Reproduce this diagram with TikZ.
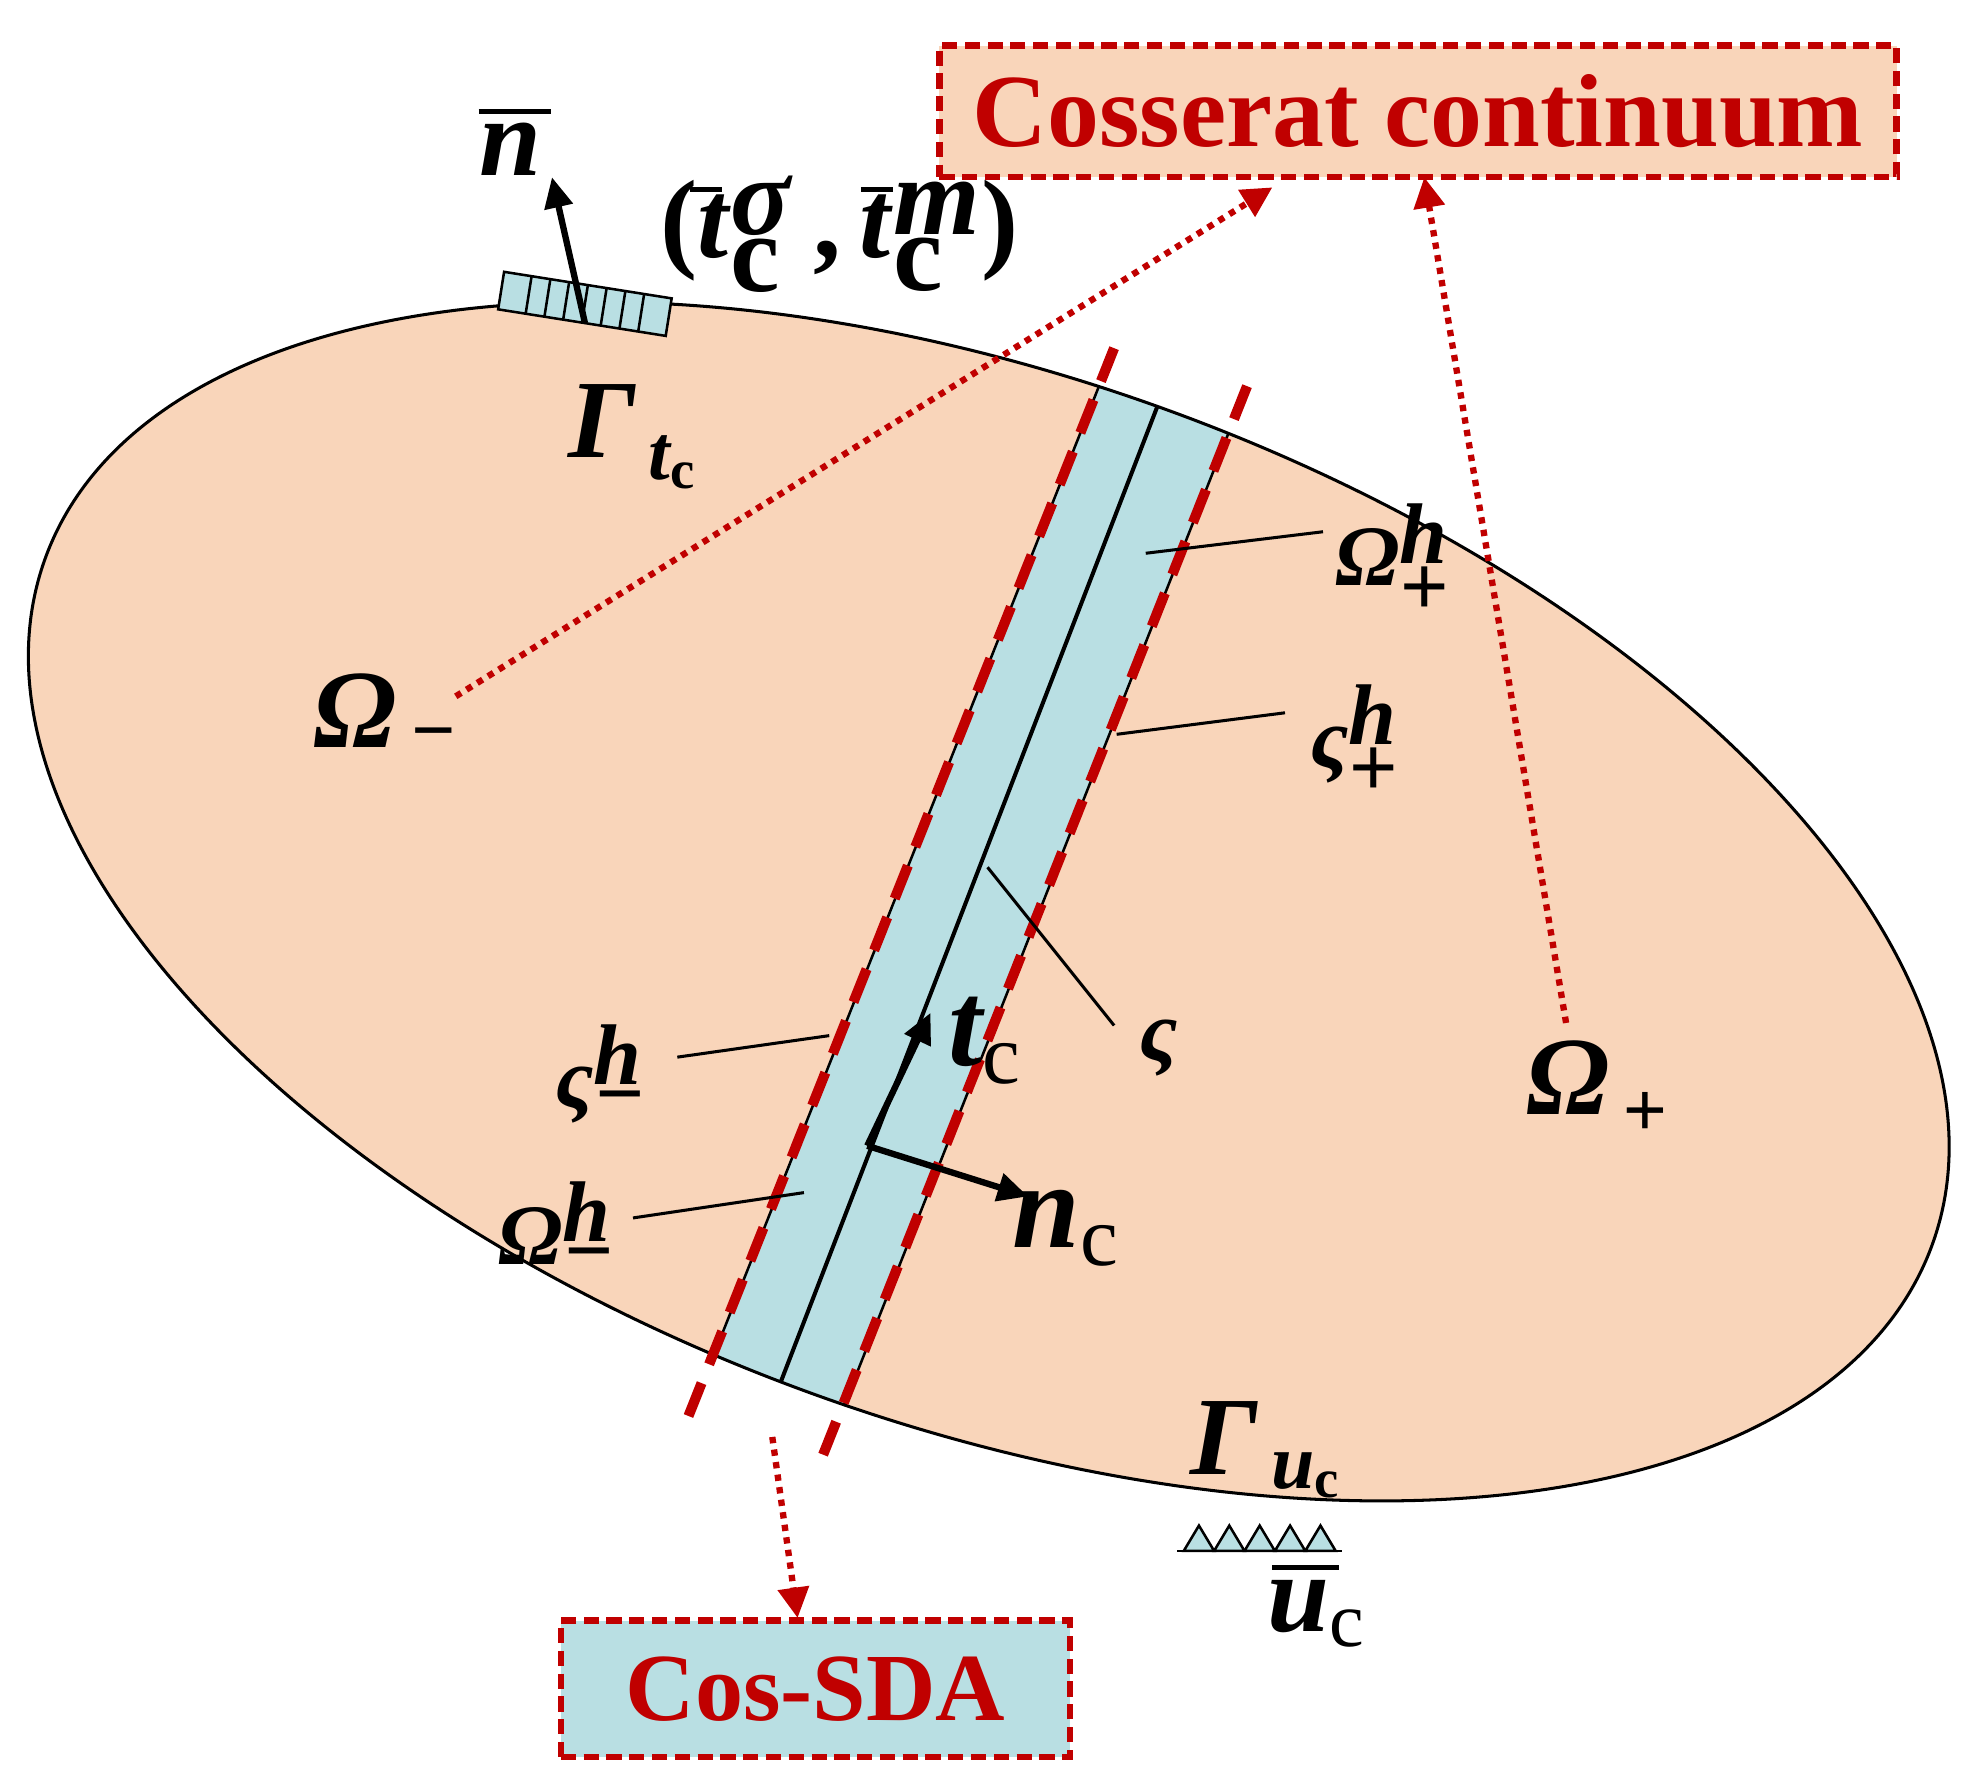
\documentclass[tikz,border=0pt]{standalone}
\usepackage{fontspec}
\setmainfont{Liberation Serif}
\usetikzlibrary{arrows.meta}
\definecolor{peach}{HTML}{F9D5BA}
\definecolor{lblue}{HTML}{B9DFE3}
\definecolor{dred}{HTML}{C00000}
\newcommand{\supsubx}[2]{$^{\textbf{\textit{#1}}}_{\textrm{#2}}$}
\begin{document}
\begin{tikzpicture}[x=0.5pt,y=-0.5pt,
  lbl/.style={font=\fontsize{34}{36}\selectfont\bfseries\itshape, inner sep=1pt},
  big/.style={font=\fontsize{44}{46}\selectfont\bfseries\itshape, inner sep=1pt},
  leader/.style={line width=1.2pt},
  rdash/.style={dred, line width=4pt, dash pattern=on 14pt off 8pt},
  rdot/.style={dred, line width=2.5pt, dash pattern=on 2.5pt off 2.5pt, -{Triangle[length=12pt,width=12pt]}},
  box/.style={draw=dred, line width=2.5pt, dash pattern=on 6pt off 3pt, inner sep=0pt},
  arr/.style={line width=2.5pt, -{Triangle[length=12pt,width=11pt]}}]
\useasboundingbox (0,0) rectangle (1560,1405);
\fill[peach] (781,712) ellipse [x radius=793, y radius=413, rotate=-20];
\begin{scope}
\clip (781,712) ellipse [x radius=793, y radius=413, rotate=-20];
\fill[lblue] (880,275) -- (985,305) -- (645,1165) -- (540,1130) -- cycle;
\draw[line width=1pt] (880,275) -- (540,1130) (985,305) -- (645,1165);
\draw[line width=1.6pt] (930,280) -- (598,1140);
\end{scope}
\draw[line width=1.2pt] (781,712) ellipse [x radius=793, y radius=413, rotate=-20];
\coordinate (lt) at (880,275); \coordinate (lb) at (540,1128);
\coordinate (rt) at (985,305); \coordinate (rb) at (645,1162);
\draw[rdash] (lt) -- (lb);
\draw[rdash] (rt) -- (rb);
\node[box, fill=peach, minimum width=378pt, minimum height=52pt, font=\fontsize{41}{43}\selectfont\bfseries, text=dred] (cc) at (1120,88) {Cosserat continuum};
\node[box, fill=lblue, minimum width=201pt, minimum height=54pt, font=\fontsize{38}{40}\selectfont\bfseries, text=dred] (sda) at (644,1334) {Cos-SDA};
\node[big] (om) at (305,565) {Ω\textsubscript{\,−}};
\node[big] (op) at (1262,860) {Ω\textsubscript{\,+}};
\coordinate (omS) at (360,550);
\coordinate (opS) at (1237,808);
\coordinate (ccA) at (1005,148);
\coordinate (ccB) at (1125,140);
\draw[rdot] (omS) -- (ccA);
\draw[rdot] (opS) -- (ccB);
\coordinate (sdS) at (610,1135);
\coordinate (sdE) at (630,1278);
\draw[rdot] (sdS) -- (sdE);
\node[lbl] (ohp) at (1100,442) {Ω\supsubx{h}{+}};
\node[lbl] (shp) at (1070,585) {ς\supsubx{h}{+}};
\node[lbl] (s) at (915,828) {ς};
\node[lbl] (shm) at (475,848) {ς\supsubx{h}{−}};
\node[lbl] (ohm) at (440,972) {Ω\supsubx{h}{−}};
\coordinate (a1) at (905,437); \coordinate (a2) at (882,580);
\coordinate (a3) at (780,685); \coordinate (a4) at (655,818);
\coordinate (a5) at (635,942);
\draw[leader] (a1) -- (1045,420);
\draw[leader] (a2) -- (1015,563);
\draw[leader] (a3) -- (880,810);
\draw[leader] (a4) -- (535,835);
\draw[leader] (a5) -- (500,962);
\coordinate (o) at (685,905);
\coordinate (te) at (735,800);
\coordinate (ne) at (812,945);
\draw[arr] (o) -- (te);
\draw[arr] (o) -- (ne);
\node[big, font=\fontsize{48}{50}\selectfont\bfseries\itshape] (tc) at (778,822) {t\textsubscript{\upshape\mdseries c}};
\node[big, font=\fontsize{48}{50}\selectfont\bfseries\itshape] (nc) at (842,970) {n\textsubscript{\upshape\mdseries c}};
\begin{scope}[shift={(462,240)}, rotate=-9]
\draw[fill=lblue, line width=1pt] (-67,-15) rectangle (67,15);
\foreach \x in {-45,-30,-15,0,15,30,45} \draw[line width=1pt] (\x,-15) -- (\x,15);
\end{scope}
\coordinate (nb0) at (462,255);
\coordinate (nb1) at (436,140);
\draw[arr] (nb0) -- (nb1);
\node[big] (nbar) at (403,118) {n};
\draw[line width=2pt] (378,88) -- (435,88);
\node[font=\fontsize{44}{46}\selectfont\bfseries] (trac) at (663,185) {(\textit{t}\supsubx{σ}{c}\,,\,\textit{t}\supsubx{m}{c})};
\draw[line width=2pt] (545,150) -- (570,150) (680,150) -- (705,150);
\node[big] (gt) at (500,345) {Γ\textsubscript{\,t\textsubscript{\upshape c}}};
\node[big] (gu) at (1000,1145) {Γ\textsubscript{\,u\textsubscript{\upshape c}}};
\foreach \i in {0,1,2,3,4} \draw[fill=lblue, line width=1pt] (935+\i*24,1225) -- (947+\i*24,1205) -- (959+\i*24,1225) -- cycle;
\draw[line width=1pt] (930,1225) -- (1060,1225);
\node[big] (ub) at (1040,1275) {u\textsubscript{\upshape\mdseries c}};
\draw[line width=2pt] (1005,1238) -- (1058,1238);
\end{tikzpicture}
\end{document}
